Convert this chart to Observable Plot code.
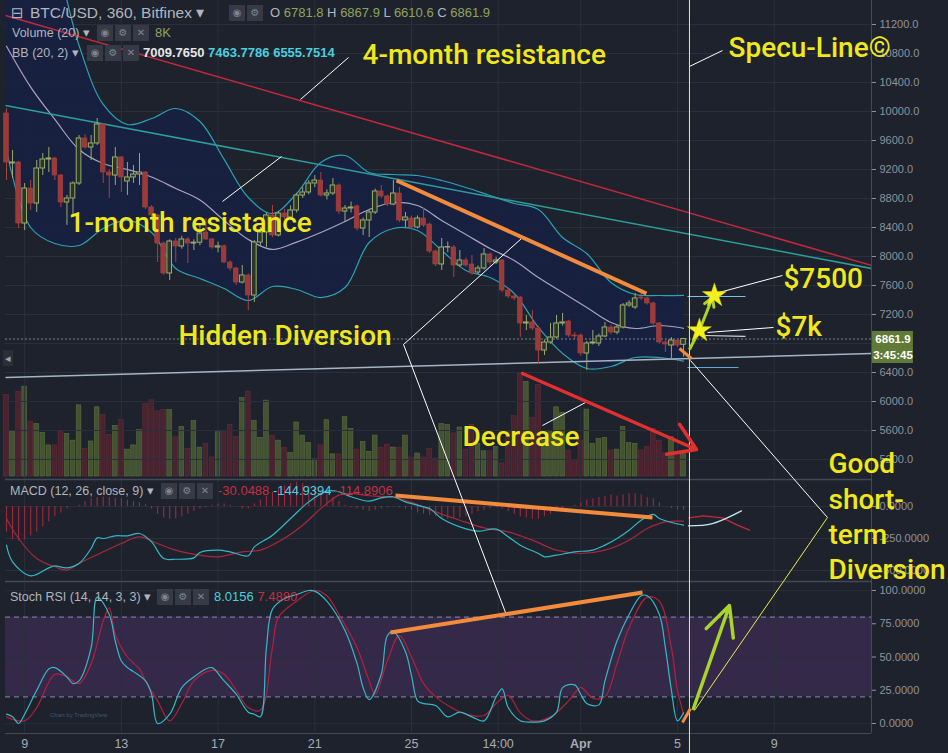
<!DOCTYPE html>
<html>
<head>
<meta charset="utf-8">
<script src="https://cdn.jsdelivr.net/npm/d3@7"></script>
<script src="https://cdn.jsdelivr.net/npm/@observablehq/plot@0.6"></script>
<style>
  html,body{margin:0;padding:0;background:#1d222d;}
  #chart{position:relative;width:948px;height:753px;background:#1d222d;overflow:hidden;font-family:"Liberation Sans",Arial,sans-serif;}
  #chart > svg{position:absolute;left:0;}
  .t{position:absolute;white-space:nowrap;color:#b2b5be;font-size:12.5px;line-height:16px;z-index:10;}
  .ic{position:absolute;width:16px;height:16px;background:#363a46;color:#80848e;font-size:10px;line-height:16px;text-align:center;font-family:"DejaVu Sans",sans-serif;z-index:10;}
  .ol{color:#8fa45c}
  .cy{color:#4ad0de}
  .rd{color:#c6303f}
  .wh{color:#e6e6e6}
</style>
</head>
<body>
<div id="chart"></div>
<script>
// ================= DATA (BTC/USD 6h bars, Bitfinex, from 8 Mar 2018 06:00 UTC) =================
const open = [9972,9283,9297,8455,8938,8731,9214,9338,9352,9117,
8745,8800,9007,9628,9503,9559,9821,9159,9117,9366,
9034,9090,9131,9159,8676,8566,8179,7766,8207,8138,
8235,8179,8190,8330,8235,8124,8140,7917,7835,7641,
7738,7462,8193,8331,8566,8290,8593,8538,8635,8841,
8883,9007,9048,8841,8869,8979,8620,8662,8690,8386,
8497,8607,8897,8828,8717,8869,8497,8524,8400,8524,
8441,8069,7890,8124,8124,7876,7945,7890,7779,7835,
8028,7917,7945,7531,7448,7434,7076,7090,7007,6703,
6814,6883,7076,7103,6910,6910,6662,6800,6800,6897,
7021,6952,7021,7324,7297,7434,7421,7352,7076,6814,
6772,6841,6781.8];
const high = [10040,9462,9310,9007,9048,9324,9421,9503,9366,9131,
8841,9030,9669,9683,9669,9903,9830,9200,9503,9380,
9297,9255,9421,9170,8700,8580,8200,8230,8250,8280,
8260,8230,8428,8524,8250,8200,8160,7940,7850,7876,
7760,8220,8400,8600,8703,8620,8650,8700,8870,8950,
9050,9117,9159,8920,9076,9000,8703,8750,8710,8530,
8640,8930,8979,8850,9048,8952,8607,8560,8560,8662,
8460,8090,8248,8200,8150,8083,7980,8014,7870,8110,
8050,7990,7960,7560,7480,7450,7186,7255,7030,6850,
7076,7186,7214,7120,6952,6930,6830,6980,6930,7090,
7050,7050,7350,7390,7490,7500,7440,7370,7090,6840,
6880,6870,6867.9];
const low = [9048,9076,8386,8359,8635,8607,9117,9159,9048,8676,
8428,8566,8980,9480,9324,9530,9007,8800,8979,8883,
8841,9007,8979,8650,8530,7917,7740,7669,7917,8100,
7903,8083,8150,8220,8100,8050,7900,7800,7600,7620,
7255,7366,8150,8124,8260,8270,8500,8500,8600,8800,
8850,8950,8820,8780,8840,8580,8469,8600,8350,8290,
8262,8580,8800,8690,8700,8470,8400,8370,8380,8400,
8040,7860,7807,8050,7710,7850,7850,7740,7750,7810,
7880,7890,7500,7420,7390,6883,6980,6980,6524,6634,
6790,6860,7040,6880,6860,6620,6428,6780,6760,6880,
6920,6920,7000,7300,7270,7390,7330,7050,6790,6676,
6593,6740,6610.6];
const close = [9297,9297,8455,8938,8731,9214,9338,9352,9117,8745,
8800,9007,9628,9503,9559,9821,9159,9117,9366,9090,
9090,9131,9159,8676,8566,8179,7766,8207,8138,8235,
8179,8190,8317,8235,8124,8140,7917,7835,7641,7738,
7462,8193,8331,8566,8290,8593,8538,8635,8841,8883,
9007,9048,8841,8869,8979,8620,8662,8676,8386,8497,
8607,8897,8828,8717,8869,8497,8538,8400,8524,8428,
8069,7890,8124,8130,7876,7945,7876,7766,7835,8028,
7917,7945,7531,7448,7421,7076,7090,7007,6703,6814,
6883,7076,7090,6910,6897,6662,6800,6814,6897,7021,
6952,7021,7324,7352,7421,7421,7352,7076,6814,6786,
6841,6772,6861.9];
// volume, thousands of BTC
const volume = [29.2,16.1,30.3,32.1,19.6,18.7,15.6,11.1,11.1,16.1,
15.2,12.8,25.4,9.9,12.5,24.7,21.9,14.9,18.1,20.1,
9.6,11.1,16.6,26.0,27.2,23.3,23.7,23.7,14.0,17.7,
9.9,19.8,10.3,11.7,6.8,15.8,16.3,18.4,14.2,28.0,
30.3,19.8,13.8,27.1,14.6,12.8,10.3,8.4,19.3,14.6,
12.0,6.1,11.1,20.1,7.9,7.9,21.2,16.9,9.6,12.3,
8.8,14.6,10.3,11.4,10.3,10.3,14.6,6.8,8.2,6.8,
9.9,6.4,18.7,18.4,15.4,17.5,9.6,18.4,11.7,9.0,
9.0,10.5,4.7,15.8,21.6,36.8,33.8,21.0,32.7,12.8,
15.8,24.7,22.8,9.3,5.8,12.8,23.9,11.7,13.4,13.7,
9.3,9.6,17.7,11.9,11.7,9.3,10.5,16.9,12.8,8.2,
14.0,8.2,8.0];
// MACD histogram per bar
const macdHist = [-200,-260,-270,-260,-230,-200,-160,-120,-80,-50,
-20,0,10,40,60,70,75,70,65,60,
50,40,30,15,-20,-60,-90,-100,-95,-80,
-60,-40,-20,-10,10,20,20,10,0,-20,
-20,20,50,80,110,140,160,180,190,180,
160,150,130,100,70,40,10,-10,-20,-30,
-40,-30,-20,-10,0,-10,-20,-30,-50,-60,
-70,-80,-90,-100,-95,-90,-80,-60,-40,-30,
-20,-10,-20,-40,-60,-80,-90,-100,-100,-80,
-60,-40,-20,0,10,30,50,60,70,80,
90,80,90,100,100,90,70,60,30,0,
-15,-25,-30];
// Bollinger Bands (20, 2), read once per day (every 4th bar)
const bbIndex = [0,4,8,12,16,20,24,28,32,36,40,44,48,52,56,60,64,68,72,76,80,84,88,92,96,100,104,108,112];
const bbUpper = [12900,12700,12100,10910,10097,9821,9903,10041,9862,9340,8814,8593,8869,9297,9393,9159,9131,9117,9048,8952,8841,8731,8648,8262,8041,7641,7476,7462,7463.8];
const bbBasis = [10900,10337,9890,9476,9283,9200,9096,8938,8779,8497,8235,8097,8199,8331,8483,8648,8745,8703,8497,8304,8110,7945,7710,7503,7297,7090,7007,7048,7009.8];
const bbLower = [9462,8400,8179,8152,8386,8497,8331,7835,7697,7559,7393,7586,7545,7434,7572,8193,8386,8359,8083,7807,7710,7490,7021,6662,6455,6483,6607,6607,6555.8];
// MACD (12, 26, close, 9)
const macdIdx = [0,1,4,7,8,10,12,14,15,16,18,20,22,24,26,28,31,32,35,37,40,41,44,47,50,53,55,57,60,62,64,66,69,70,72,75,78,81,83,85,88,89,91,94,97,99,101,103,105,107,108,110,112];
const macdVal = [-302,-432,-542,-479,-464,-479,-445,-328,-245,-250,-229,-229,-211,-276,-406,-412,-401,-359,-341,-354,-385,-315,-224,-94,36,120,115,76,42,68,76,36,-3,-16,-94,-159,-193,-177,-237,-302,-367,-393,-380,-354,-341,-302,-250,-185,-107,-62,-94,-125,-145];
const signalIdx = [0,2,5,8,10,12,16,19,22,25,28,32,35,39,42,45,49,52,55,57,60,64,67,71,75,79,83,87,91,95,99,103,106,109,112];
const signalVal = [-94,-250,-406,-471,-497,-445,-354,-289,-237,-289,-341,-380,-393,-354,-341,-276,-146,-16,89,102,84,71,32,-42,-107,-167,-198,-263,-341,-367,-341,-263,-172,-120,-115];
// MACD projection drawn after the last bar (hours after 8 Mar 00:00)
const macdProjHour = [682.9,706.7,735.5];
const macdProjVal = [-151,-133,-34];
const sigProjHour = [682.9,697.8,716.7,731.6,743.5];
const sigProjVal = [-89,-73,-89,-146,-185];
// Stoch RSI (14, 14, 3, 3)
const kIdx = [0,1,2,3,5,7,8,10,11,12,14,15,17,18,19,20,21,23,24,25,27,29,31,33,34,36,38,40,41,42,43,44,46,48,50,51,53,56,58,59,60,62,63,64,66,67,68,69,71,73,75,77,79,81,82,83,85,87,89,91,92,94,95,96,98,99,101,103,105,106,108,109,110,111,112];
const kVal = [7,5,0,7,25,41,42,35,30,32,57,95,82,62,47,42,39,32,22,0,7,27,35,41,42,32,22,8.5,7,5,57,86,94,97,100,99.5,92,70,45,27,18,37,66,69,54,36,17,15,13.5,5,8.5,5,2,20,26,12,2,1,2,8.5,27,29,22,15,14,32,62,82,96,96,82,57,25,2,8];
const dIdx = [0,3,5,8,10,12,14,16,17,18,20,22,23,25,27,29,31,34,36,38,40,42,44,45,48,51,53,55,58,60,61,63,65,67,69,71,74,76,79,81,83,85,87,90,93,95,97,99,101,103,106,108,110,111,112];
const dVal = [5,2,12,37,35,30,45,77,87,67,50,41,32,17,2,15,32,40,37,25,12,10,57,80,92,100,96,82,57,32,22,47,66,50,30,20,11,7,6,15,21,8,2,5,17,27,19,20,45,72,95,92,57,25,7.5];
// axes
const dateTickHours = [24,120,216,312,408,494,576,672,768];
const dateTickLabels = ["9","13","17","21","25","14:00","Apr","5","9"];
const priceTicks = [5200,5600,6000,6400,7200,7600,8000,8400,8800,9200,9600,10000,10400,10800,11200];
const priceGrid = [5200,5600,6000,6400,6800,7200,7600,8000,8400,8800,9200,9600,10000,10400,10800,11200];
const macdTicks = [0,-250,-500];
const stochTicks = [0,25,50,75,100];
const lastPrice = 6861.9;
// annotations: endpoints as [hours after 8 Mar 00:00 UTC, value in the panel's unit]
const resistance4m = [[5,11324],[864.6,7876]];
const resistance1m = [[5,10083],[864.6,7835]];
const supportLine = [[5,6331],[864.6,6662]];
const priceDivergence = [[393.1,9048],[641.2,7490]];
const priceDivSmall = [[674.0,6731],[685.9,6593]];
const volumeArrow = [[518.2,6386],[690.9,5338]];
const greenStem = [[683.9,6717],[693.8,6979]];
const greenArrow = [[693.8,6979],[706.7,7435]];
const targets = [[693.8,6979],[708.7,7462]];
const bbProjUpper = [[681.9,7448],[739.5,7448]];
const bbProjBasis = [[697.8,6910],[739.5,6897]];
const bbProjLower = [[681.9,6469],[732.6,6469]];
const pricePointers = [
  [[345.5,10745],[297.8,10166]],
  [[220.4,8759],[279.0,9379]],
  [[716.7,10841],[683.9,10621]],
  [[400.1,6786],[517.2,8248]],
  [[400.1,6786],[501.3,3090]],
  [[538.0,5669],[580.7,5986]],
  [[776.2,7738],[709.7,7490]],
  [[767.3,7021],[701.8,6952]],
  [[684.9,6566],[820.9,4400]]
];
const macdDivergence = [[392.1,86],[647.2,-86]];
const macdPointers = [[[400.1,1265.6],[501.3,-828]],[[684.9,1140.6],[820.9,-86]]];
const macdYellow = [[820.9,-86],[688.9,-1594]];
const stochDivergence = [[387.1,68.4],[637.3,98.5]];
const stochDivSmall = [[677.0,0.75],[684.9,11.3]];
const stochPointers = [[[400.1,285],[501.3,83.5]]];
const stochYellow = [[820.9,154.9],[688.9,9.8]];
const stochArrow = [[687.9,11.3],[723.6,88.7]];
const specuLineHour = 683.9;
const priceLabels = [
  {h:359.4, v:10772, s:"4-month resistance"},
  {h:67.5, v:8455, s:"1-month resistance"},
  {h:722.6, v:10869, s:"Specu-Line©"},
  {h:176.7, v:6897, s:"Hidden Diversion"},
  {h:458.6, v:5503, s:"Decrease"},
  {h:777.2, v:7683, s:"$7500"},
  {h:769.3, v:7021, s:"$7k"}
];
const macdLabel = [{h:821.9, v:455, s:"Good\nshort-\nterm\nDiversion"}];

// ================= HELPERS =================
const HOUR = 3600e3;
const T0 = Date.UTC(2018, 2, 8);
const hrs = h => new Date(T0 + h * HOUR);
const atIdx = i => hrs(6 + 6 * i);
const seg = ([[h1, v1], [h2, v2]]) => ({x1: hrs(h1), y1: v1, x2: hrs(h2), y2: v2});
const link = (s, o) => Plot.link([seg(s)], {x1: "x1", y1: "y1", x2: "x2", y2: "y2", ...o});
const pairs = (idx, val) => idx.map((i, k) => ({t: atIdx(i), v: val[k]}));
const hpairs = (hh, val) => hh.map((h, k) => ({t: hrs(h), v: val[k]}));

const candles = open.map((o, i) => ({t: atIdx(i), o, h: high[i], l: low[i], c: close[i], v: volume[i], hist: macdHist[i]}));
const up = candles.filter(d => d.c >= d.o), dn = candles.filter(d => d.c < d.o);
const bb = bbIndex.map((i, k) => ({t: atIdx(i), up: bbUpper[k], mid: bbBasis[k], lo: bbLower[k]}));
const dateTimes = dateTickHours.map(hrs);
const lbl = new Map(dateTickHours.map((h, i) => [+hrs(h), dateTickLabels[i]]));

const X = {type: "utc", domain: [hrs(5), hrs(864.6)]};
const GRID = "#2a303c", SEP = "#444956", YEL = "#f0e81c", VLINE = "#f2f060";
const ORANGE = "#f38b3c", WHITE = "#ffffff", GREEN = "#a8d42c";
const style = {background: "transparent", overflow: "visible", color: "#8f939c", fontFamily: "Liberation Sans, Arial, sans-serif", fontSize: "11px"};
const bx1 = d => new Date(+d.t - 2.3 * HOUR), bx2 = d => new Date(+d.t + 2.3 * HOUR);
const txt = {fill: YEL, fontFamily: "Roboto, sans-serif", fontWeight: 500, fontSize: 28, textAnchor: "start"};

const chart = document.getElementById("chart");
function place(svg, top, z) { svg.style.top = top + "px"; svg.style.zIndex = z; chart.append(svg); return svg; }

// ---------- volume overlay ----------
place(Plot.plot({
  width: 948, height: 479, marginLeft: 5, marginRight: 77, marginTop: 0, marginBottom: 3,
  x: {...X, axis: null}, y: {domain: [0, 170], axis: null}, style,
  marks: [
    Plot.rect(up, {x1: bx1, x2: bx2, y1: 0, y2: "v", fill: "#4a5b32", fillOpacity: 0.85, stroke: "#5d7040", strokeWidth: 0.6}),
    Plot.rect(dn, {x1: bx1, x2: bx2, y1: 0, y2: "v", fill: "#52232f", fillOpacity: 0.85, stroke: "#652d3c", strokeWidth: 0.6})
  ]
}), 0, 1);

// ---------- price panel ----------
place(Plot.plot({
  width: 948, height: 479, marginLeft: 5, marginRight: 77, marginTop: 0, marginBottom: 0,
  x: {...X, axis: null},
  y: {domain: [4924, 11531], axis: "right", ticks: priceTicks, tickFormat: d => d.toFixed(1), tickSize: 4, tickPadding: 4, label: null},
  style,
  marks: [
    Plot.ruleY(priceGrid, {stroke: GRID}),
    Plot.ruleX(dateTimes, {stroke: GRID}),
    Plot.ruleX([hrs(864.6)], {stroke: SEP}),
    Plot.areaY(bb, {x: "t", y1: "lo", y2: "up", fill: "#17213f", fillOpacity: 0.95, curve: "catmull-rom", clip: true}),
    Plot.line(bb, {x: "t", y: "up", stroke: "#2aa3b4", strokeWidth: 1.2, curve: "catmull-rom", clip: true}),
    Plot.line(bb, {x: "t", y: "lo", stroke: "#2aa3b4", strokeWidth: 1.2, curve: "catmull-rom", clip: true}),
    Plot.line(bb, {x: "t", y: "mid", stroke: "#aaa3c4", strokeWidth: 1.2, curve: "catmull-rom", clip: true}),
    link(resistance4m, {stroke: "#c4283c", strokeWidth: 1.5, clip: true}),
    link(resistance1m, {stroke: "#2e9c99", strokeWidth: 1.5, clip: true}),
    link(supportLine, {stroke: "#a5b6c2", strokeWidth: 1.5, clip: true}),
    Plot.ruleY([lastPrice], {stroke: "#9aa0aa", strokeDasharray: "2,2", strokeOpacity: 0.8}),
    Plot.ruleX(up, {x: "t", y1: d => Math.max(d.o, d.c), y2: "h", stroke: "#9aab6a"}),
    Plot.ruleX(up, {x: "t", y1: "l", y2: d => Math.min(d.o, d.c), stroke: "#9aab6a"}),
    Plot.ruleX(dn, {x: "t", y1: "l", y2: "h", stroke: "#a84242"}),
    Plot.rect(up, {x1: bx1, x2: bx2, y1: "o", y2: "c", fill: "#2a3428", stroke: "#9cad6c", strokeWidth: 1}),
    Plot.rect(dn, {x1: bx1, x2: bx2, y1: "o", y2: "c", fill: "#9c3939", stroke: "#aa4444", strokeWidth: 0.6}),
    link(bbProjUpper, {stroke: "#7cc4e2", strokeWidth: 1.2}),
    link(bbProjBasis, {stroke: "#d6d6de", strokeWidth: 1.2}),
    link(bbProjLower, {stroke: "#5fa9d2", strokeWidth: 1.2}),
    Plot.ruleX([hrs(specuLineHour)], {stroke: VLINE, strokeWidth: 1}),
    ...pricePointers.map(p => link(p, {stroke: WHITE, strokeWidth: 1, clip: true})),
    link(priceDivergence, {stroke: ORANGE, strokeWidth: 4}),
    link(priceDivSmall, {stroke: ORANGE, strokeWidth: 3}),
    Plot.arrow([seg(volumeArrow)], {x1: "x1", y1: "y1", x2: "x2", y2: "y2", stroke: "#e3302f", strokeWidth: 3.5, headLength: 13, headAngle: 65}),
    link(greenStem, {stroke: GREEN, strokeWidth: 3}),
    Plot.arrow([seg(greenArrow)], {x1: "x1", y1: "y1", x2: "x2", y2: "y2", stroke: GREEN, strokeWidth: 3, headLength: 5, headAngle: 60}),
    Plot.dot(targets, {x: d => hrs(d[0]), y: d => d[1], symbol: "star", r: 7.5, fill: "#f4f01e", stroke: "#d8d010", strokeWidth: 0.5}),
    Plot.rect([{a: 6745, b: 6966}, {a: 6524, b: 6745}], {x1: hrs(865.6), x2: hrs(906.2), y1: "a", y2: "b", fill: "#5f7b37"}),
    Plot.text([{v: 6855, s: lastPrice.toFixed(1)}, {v: 6634, s: "3:45:45"}], {x: hrs(885.9), y: "v", text: "s", fill: "#ffffff", fontSize: 11.5, fontWeight: "bold"}),
    Plot.text(priceLabels, {x: d => hrs(d.h), y: "v", text: "s", ...txt})
  ]
}), 0, 2);

// ---------- Stoch RSI panel ----------
const stochSvg = place(Plot.plot({
  width: 948, height: 172, marginLeft: 5, marginRight: 77, marginTop: 0, marginBottom: 20,
  x: {...X, axis: "bottom", ticks: dateTimes, tickFormat: d => lbl.get(+d), tickSize: 0, tickPadding: 6, label: null},
  y: {domain: [-7.52, 106.77], axis: "right", ticks: stochTicks, tickFormat: d => d.toFixed(4), tickSize: 4, tickPadding: 4, label: null},
  style,
  marks: [
    Plot.rect([0], {y1: 20, y2: 80, fill: "#35294a"}),
    Plot.ruleY(stochTicks, {stroke: GRID, strokeOpacity: 0.8}),
    Plot.ruleX(dateTimes, {stroke: GRID}),
    Plot.ruleX([hrs(864.6)], {stroke: SEP}),
    Plot.ruleY([20, 80], {stroke: "#8e8ba8", strokeDasharray: "5,4"}),
    Plot.ruleY([106.77], {stroke: SEP, strokeWidth: 1.5}),
    Plot.ruleY([-7.52], {stroke: SEP}),
    Plot.line(pairs(dIdx, dVal), {x: "t", y: "v", stroke: "#b3203c", strokeWidth: 1.2, curve: "catmull-rom"}),
    Plot.line(pairs(kIdx, kVal), {x: "t", y: "v", stroke: "#36b8c6", strokeWidth: 1.2, curve: "catmull-rom"}),
    Plot.ruleX([hrs(specuLineHour)], {y1: -22.6, y2: 106.77, stroke: VLINE, strokeWidth: 1}),
    link(stochDivergence, {stroke: ORANGE, strokeWidth: 4}),
    link(stochDivSmall, {stroke: ORANGE, strokeWidth: 3}),
    ...stochPointers.map(p => link(p, {stroke: WHITE, strokeWidth: 1, clip: true})),
    link(stochYellow, {stroke: "#eceb50", strokeWidth: 1, clip: true}),
    Plot.arrow([seg(stochArrow)], {x1: "x1", y1: "y1", x2: "x2", y2: "y2", stroke: GREEN, strokeWidth: 3.5, headLength: 14, headAngle: 52})
  ]
}), 581, 3);

// ---------- MACD panel (on top so its label can extend over neighbours) ----------
const macdSvg = place(Plot.plot({
  width: 948, height: 102, marginLeft: 5, marginRight: 77, marginTop: 0, marginBottom: 0,
  x: {...X, axis: null},
  y: {domain: [-585.9, 210.9], axis: "right", ticks: macdTicks, tickFormat: d => d.toFixed(4), tickSize: 4, tickPadding: 4, label: null},
  style,
  marks: [
    Plot.ruleY(macdTicks, {stroke: GRID}),
    Plot.ruleX(dateTimes, {stroke: GRID}),
    Plot.ruleX([hrs(864.6)], {stroke: SEP}),
    Plot.ruleY([210.9], {stroke: SEP, strokeWidth: 1.5}),
    Plot.ruleX(candles, {x: "t", y1: 0, y2: "hist", stroke: "#a3283d", strokeWidth: 1.1}),
    Plot.line(pairs(signalIdx, signalVal), {x: "t", y: "v", stroke: "#a9283b", strokeWidth: 1.2, curve: "catmull-rom"}),
    Plot.line(pairs(macdIdx, macdVal), {x: "t", y: "v", stroke: "#33b8c7", strokeWidth: 1.2, curve: "catmull-rom"}),
    Plot.line(hpairs(sigProjHour, sigProjVal), {x: "t", y: "v", stroke: "#c7283c", strokeWidth: 1.3}),
    Plot.line(hpairs(macdProjHour, macdProjVal), {x: "t", y: "v", stroke: "#c3eaf2", strokeWidth: 1.3, curve: "catmull-rom"}),
    Plot.ruleX([hrs(specuLineHour)], {stroke: VLINE, strokeWidth: 1}),
    link(macdDivergence, {stroke: ORANGE, strokeWidth: 4}),
    ...macdPointers.map(p => link(p, {stroke: WHITE, strokeWidth: 1, clip: true})),
    link(macdYellow, {stroke: "#eceb50", strokeWidth: 1, clip: true}),
    Plot.text(macdLabel, {x: d => hrs(d.h), y: "v", text: "s", lineAnchor: "top", lineHeight: 1.26, ...txt})
  ]
}), 479, 4);

d3.select(stochSvg).selectAll("text").each(function () {
  const s = this.textContent;
  if (dateTickLabels.includes(s)) {
    d3.select(this).attr("font-size", "12.5px").attr("fill", "#a7abb4");
    if (s === "Apr") d3.select(this).attr("font-weight", "bold");
  }
});

// ---------- pane legends (TradingView style headers) ----------
function addText(x, y, html, size, extra) {
  const d = document.createElement("div");
  d.className = "t"; d.style.left = x + "px"; d.style.top = y + "px";
  if (size) d.style.fontSize = size + "px";
  if (extra) Object.assign(d.style, extra);
  d.innerHTML = html; chart.append(d);
}
function addIcons(x, y, glyphs) {
  glyphs.forEach((g, i) => {
    const d = document.createElement("div");
    d.className = "ic"; d.style.left = (x + i * 18) + "px"; d.style.top = y + "px";
    d.textContent = g; chart.append(d);
  });
}
addText(11, 4, "⊟", 15, {fontFamily: "DejaVu Sans, sans-serif", lineHeight: "18px"});
addText(30, 4, "BTC/USD, 360, Bitfinex ▾", 15.5, {lineHeight: "18px"});
addIcons(229, 5, ["◉", "⚙"]);
addText(270, 5, 'O <span class="ol">6781.8</span> H <span class="ol">6867.9</span> L <span class="ol">6610.6</span> C <span class="ol">6861.9</span>', 13);
addText(12, 25, "Volume (20) ▾");
addIcons(97, 25, ["◉", "⚙", "✕"]);
addText(155, 25, '<span class="ol">8K</span>', 13);
addText(12, 45, "BB (20, 2) ▾");
addIcons(87, 45, ["◉", "⚙", "✕"]);
addText(143, 45, '<span class="wh">7009.7650</span> <span class="cy">7463.7786</span> <span class="cy">6555.7514</span>', 13, {fontWeight: "bold"});
addText(10, 483, "MACD (12, 26, close, 9) ▾");
addIcons(161, 483, ["◉", "⚙", "✕"]);
addText(218, 483, '<span class="rd">-30.0488</span> <span class="cy">-144.9394</span> <span class="rd">-114.8906</span>', 13);
addText(10, 589, "Stoch RSI (14, 14, 3, 3) ▾");
addIcons(157, 589, ["◉", "⚙", "✕"]);
addText(214, 589, '<span class="cy">8.0156</span> <span class="rd">7.4880</span>', 13);
addText(3, 350, "◂", 11, {background: "#2a2f3a", color: "#9aa0aa", padding: "0 2px"});
addText(50, 707, "Chart by TradingView", 6, {color: "#3f5a6e"});
</script>
</body>
</html>
